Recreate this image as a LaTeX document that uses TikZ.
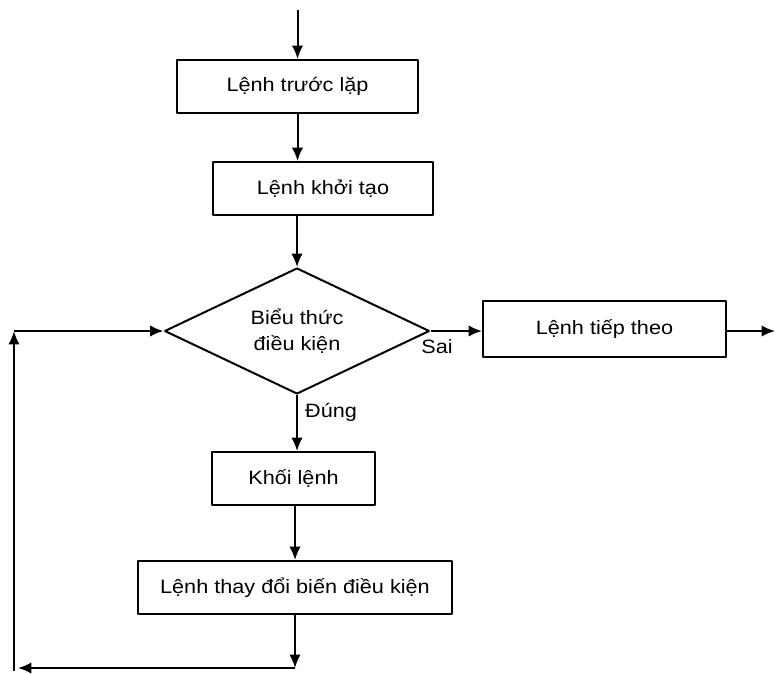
\documentclass[tikz,border=0pt]{standalone}
\usepackage{fontspec}
\setmainfont[FakeStretch=1.12]{Liberation Sans}
\usetikzlibrary{shapes.geometric,arrows.meta}

\begin{document}
\begin{tikzpicture}[x=0.75pt,y=-0.75pt,>={Latex[length=10pt,width=8.5pt]},line width=1.5pt,line join=bevel,
  box/.style={draw,rectangle,inner sep=0pt,minimum height=39.75pt,font=\fontsize{14.5}{18}\selectfont},
  cond/.style={draw,diamond,aspect=2.1,inner sep=0pt,minimum width=198.75pt,minimum height=94.5pt,align=center,font=\fontsize{14.5}{19}\selectfont},
  lbl/.style={font=\fontsize{14.5}{18}\selectfont,inner sep=0pt}]
%%
 \useasboundingbox (0,0) rectangle (775,674);
 \node (node_truoc) at (297.5,86.5) [box,minimum width=180.75pt] {Lệnh trước lặp};
 \node (node_khoitao) at (323,188.5) [box,minimum width=165pt] {Lệnh khởi tạo};
 \node (node_dk) at (297,331) [cond] {Biểu thức\\điều kiện};
 \node (node_tiep) at (604.5,329) [box,minimum width=182.25pt,minimum height=42pt] {Lệnh tiếp theo};
 \node (node_khoi) at (293.5,478.5) [box,minimum width=122.25pt] {Khối lệnh};
 \node (node_thaydoi) at (295,587.5) [box,minimum width=235.5pt] {Lệnh thay đổi biến điều kiện};
 \node (lbl_sai) at (437,347) [lbl] {Sai};
 \node (lbl_dung) at (331,412) [lbl] {Đúng};
 \coordinate (c_top) at (297.5,10);
 \coordinate (c_out) at (775,331);
 \coordinate (c_bot) at (295,668);
 \coordinate (c_left) at (14,668);
 \coordinate (c_up) at (14,331);

  \draw [black,->] (c_top) -- (node_truoc);
  \draw [black,->] (node_truoc.south) -- (node_truoc.south |- node_khoitao.north);
  \draw [black,->] (node_dk.north |- node_khoitao.south) -- (node_dk.north);
  \draw [black,->] (node_dk.east) -- (node_dk.east -| node_tiep.west);
  \draw [black,->] (node_tiep.east |- c_out) -- (c_out);
  \draw [black,->] (node_dk.south) -- (node_dk.south |- node_khoi.north);
  \draw [black,->] (node_khoi.south -| c_bot) -- (c_bot |- node_thaydoi.north);
  \draw [black,->] (node_thaydoi.south -| c_bot) -- (c_bot);
  \draw [black,->] (c_bot) -- ([xshift=3pt]c_left);
  \draw [black,->] ([yshift=-2pt]c_left) -- (c_up);
  \draw [black,->] (c_up) -- (node_dk.west);
%
\end{tikzpicture}
\end{document}
